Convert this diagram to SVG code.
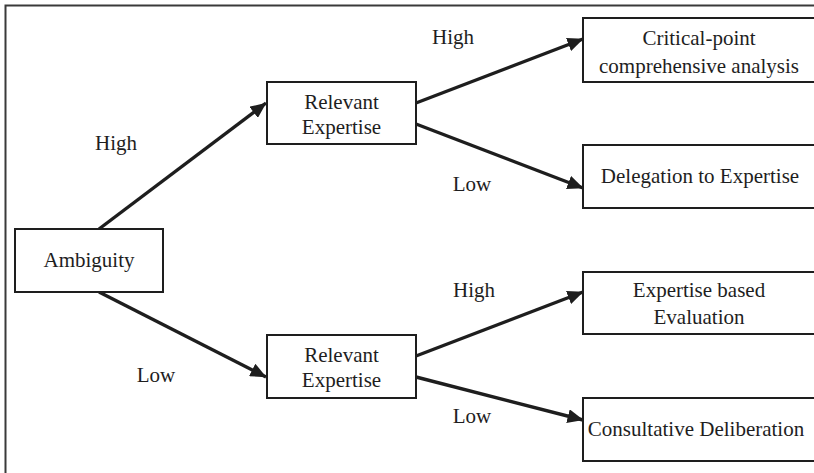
<svg xmlns="http://www.w3.org/2000/svg" width="814" height="473" viewBox="0 0 814 473">
<style>
.box{fill:#fff;stroke:#1e1e1e;stroke-width:2}
.t{font-family:"Liberation Serif","Times New Roman",serif;font-size:21px;fill:#1e1e1e;text-anchor:middle}
.c{stroke:#1e1e1e;stroke-width:3.4;fill:none;marker-end:url(#ah)}
</style>
<defs>
<marker id="ah" viewBox="0 0 16 14" refX="15.5" refY="7" markerUnits="userSpaceOnUse" markerWidth="16" markerHeight="14" orient="auto">
<path d="M0,0 L16,7 L0,14 Z" fill="#1e1e1e"/>
</marker>
</defs>
<rect x="5.5" y="5.5" width="830" height="490" fill="none" stroke="#3a3a3a" stroke-width="2"/>
<g id="connectors">
<line class="c" x1="99" y1="229" x2="266" y2="103"/>
<line class="c" x1="99" y1="292" x2="266" y2="377"/>
<line class="c" x1="416" y1="103" x2="583" y2="39"/>
<line class="c" x1="416" y1="124" x2="583" y2="188"/>
<line class="c" x1="416" y1="356" x2="583" y2="292"/>
<line class="c" x1="416" y1="377" x2="583" y2="420"/>
</g>
<g id="labels">
<text class="t" x="116" y="150">High</text>
<text class="t" x="156" y="382">Low</text>
<text class="t" x="453" y="44">High</text>
<text class="t" x="472" y="191">Low</text>
<text class="t" x="474" y="297">High</text>
<text class="t" x="472" y="423">Low</text>
</g>
<g id="ambiguity">
<rect class="box" x="15" y="229" width="148" height="63"/>
<text class="t" x="89" y="267">Ambiguity</text>
</g>
<g id="re-high">
<rect class="box" x="267" y="82" width="149" height="62"/>
<text class="t" x="341.5" y="109">Relevant</text>
<text class="t" x="341.5" y="134">Expertise</text>
</g>
<g id="re-low">
<rect class="box" x="267" y="335" width="149" height="63"/>
<text class="t" x="341.5" y="362">Relevant</text>
<text class="t" x="341.5" y="387">Expertise</text>
</g>
<g id="critical">
<rect class="box" x="583" y="18" width="240" height="64"/>
<text class="t" x="699" y="45">Critical-point</text>
<text class="t" x="699" y="73">comprehensive analysis</text>
</g>
<g id="delegation">
<rect class="box" x="583" y="145" width="240" height="63"/>
<text class="t" x="700" y="183">Delegation to Expertise</text>
</g>
<g id="expertise-eval">
<rect class="box" x="583" y="272" width="240" height="62"/>
<text class="t" x="699" y="297">Expertise based</text>
<text class="t" x="699" y="324">Evaluation</text>
</g>
<g id="consultative">
<rect class="box" x="583" y="398" width="240" height="63"/>
<text class="t" x="696" y="436">Consultative Deliberation</text>
</g>
</svg>
